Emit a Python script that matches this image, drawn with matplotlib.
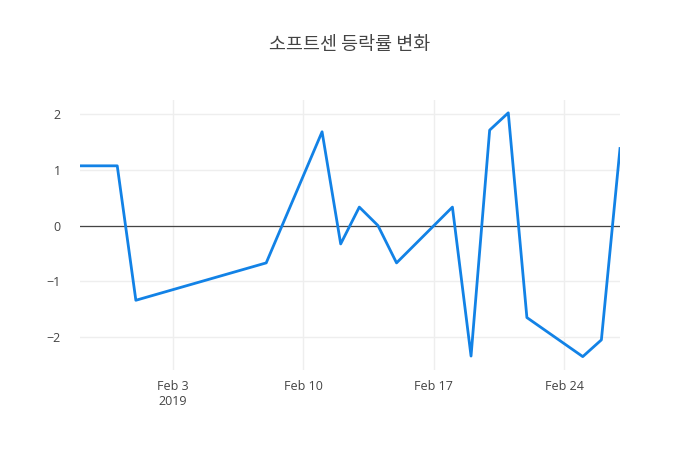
import matplotlib
matplotlib.use("Agg")
import matplotlib.pyplot as plt
import pandas as pd

plt.rcParams["font.family"] = ["Noto Sans CJK KR", "DejaVu Sans"]

dates = [
    "2019-01-29", "2019-01-30", "2019-01-31", "2019-02-01", "2019-02-08",
    "2019-02-11", "2019-02-12", "2019-02-13", "2019-02-14", "2019-02-15",
    "2019-02-18", "2019-02-19", "2019-02-20", "2019-02-21", "2019-02-22",
    "2019-02-25", "2019-02-26", "2019-02-27",
]
change_pct = [
    1.07, 1.07, 1.07, -1.34, -0.67,
    1.68, -0.33, 0.33, 0.0, -0.67,
    0.33, -2.34, 1.71, 2.02, -1.65,
    -2.35, -2.05, 1.38,
]
title = "소프트센 등락률 변화"

x = pd.to_datetime(dates)

fig = plt.figure(figsize=(7, 4.5), dpi=100)
ax = fig.add_axes([80 / 700, 80 / 450, 540 / 700, 270 / 450])

ax.plot(x, change_pct, color="#1282e6", linewidth=2, zorder=3)
ax.axhline(0, color="#444444", linewidth=0.9, zorder=2)

ax.set_xlim(x[0], x[-1])
ax.set_ylim(-2.59, 2.25)
ax.set_yticks([-2, -1, 0, 1, 2])
ax.set_yticklabels(["\u22122", "\u22121", "0", "1", "2"])

ticks = pd.to_datetime(["2019-02-03", "2019-02-10", "2019-02-17", "2019-02-24"])
ax.set_xticks(ticks)
ax.set_xticklabels(["Feb 3\n2019", "Feb 10", "Feb 17", "Feb 24"])

ax.grid(True, color="#eeeeee", linewidth=1, zorder=0)
for spine in ax.spines.values():
    spine.set_visible(False)
ax.tick_params(length=0, labelsize=9, colors="#444444", pad=7)
ax.tick_params(axis="y", pad=14)
for label in ax.get_xticklabels() + ax.get_yticklabels():
    label.set_family(["Open Sans", "DejaVu Sans"])

fig.text(0.5, 1 - 45 / 450, title, ha="center", va="center",
         fontsize=13.3, color="#444444")

fig.savefig("out.png", dpi=100)
